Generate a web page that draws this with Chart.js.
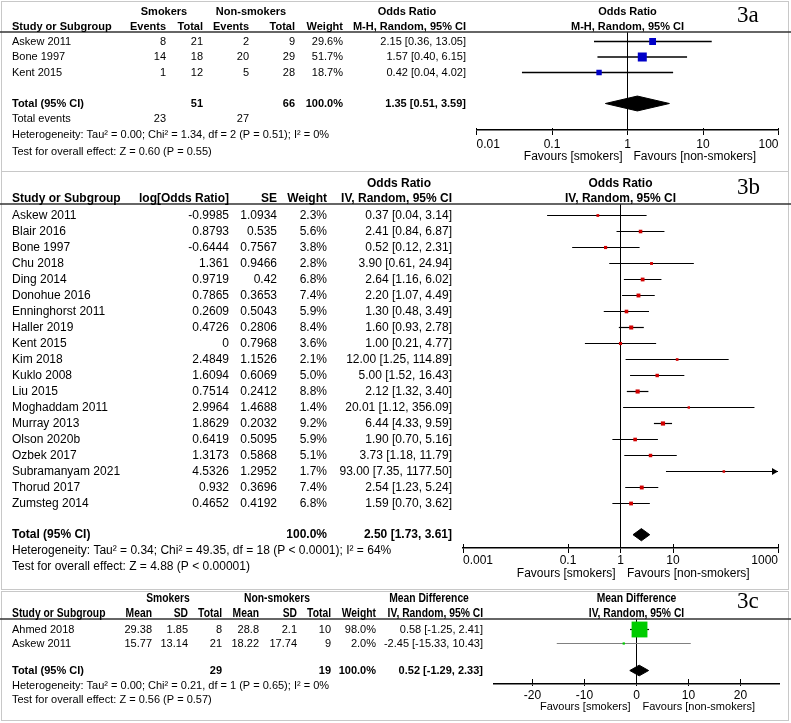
<!DOCTYPE html>
<html><head><meta charset="utf-8">
<script src="https://cdn.jsdelivr.net/npm/chart.js@4.4.1/dist/chart.umd.min.js"></script>
<style>
html,body{margin:0;padding:0;background:#fff;}
#wrap{position:relative;width:791px;height:723px;overflow:hidden;background:#fff;}
canvas{position:absolute;left:0;top:0;}
.frame{position:absolute;border:1px solid #c8c8c8;box-sizing:border-box;}
</style></head><body>
<div id="wrap">
<div class="frame" style="left:1px;top:1px;width:788px;height:171px"></div>
<div class="frame" style="left:1px;top:171px;width:788px;height:419px"></div>
<div class="frame" style="left:1px;top:591px;width:788px;height:130px"></div>
<canvas id="c1" width="791" height="723"></canvas>
<canvas id="c2" width="791" height="723"></canvas>
<canvas id="c3" width="791" height="723"></canvas>
</div>
<script>
// ---------------- shared text ----------------
const FAV_L = 'Favours [smokers]';
const FAV_R = 'Favours [non-smokers]';

// ---------------- 3a data ----------------
const a_studies = ['Askew 2011', 'Bone 1997', 'Kent 2015'];
const a_eventsS = [8, 14, 1];
const a_totalS = [21, 18, 12];
const a_eventsN = [2, 20, 5];
const a_totalN = [9, 29, 28];
const a_weight = [29.6, 51.7, 18.7];
const a_or = [2.15, 1.57, 0.42];
const a_lo = [0.36, 0.40, 0.04];
const a_hi = [13.05, 6.15, 4.02];
const a_pooled = [1.35, 0.51, 3.59];
const a_totals = [51, 66];
const a_totalEvents = [23, 27];
const a_het = 'Heterogeneity: Tau\u00b2 = 0.00; Chi\u00b2 = 1.34, df = 2 (P = 0.51); I\u00b2 = 0%';
const a_test = 'Test for overall effect: Z = 0.60 (P = 0.55)';
const a_ticks = [0.01, 0.1, 1, 10, 100];
const a_tickLabels = ['0.01', '0.1', '1', '10', '100'];

// ---------------- 3b data ----------------
const b_studies = ['Askew 2011','Blair 2016','Bone 1997','Chu 2018','Ding 2014','Donohue 2016','Enninghorst 2011','Haller 2019','Kent 2015','Kim 2018','Kuklo 2008','Liu 2015','Moghaddam 2011','Murray 2013','Olson 2020b','Ozbek 2017','Subramanyam 2021','Thorud 2017','Zumsteg 2014'];
const b_logOR = [-0.9985, 0.8793, -0.6444, 1.361, 0.9719, 0.7865, 0.2609, 0.4726, 0, 2.4849, 1.6094, 0.7514, 2.9964, 1.8629, 0.6419, 1.3173, 4.5326, 0.932, 0.4652];
const b_se = [1.0934, 0.535, 0.7567, 0.9466, 0.42, 0.3653, 0.5043, 0.2806, 0.7968, 1.1526, 0.6069, 0.2412, 1.4688, 0.2032, 0.5095, 0.5868, 1.2952, 0.3696, 0.4192];
const b_weight = [2.3, 5.6, 3.8, 2.8, 6.8, 7.4, 5.9, 8.4, 3.6, 2.1, 5.0, 8.8, 1.4, 9.2, 5.9, 5.1, 1.7, 7.4, 6.8];
const b_or = [0.37, 2.41, 0.52, 3.90, 2.64, 2.20, 1.30, 1.60, 1.00, 12.00, 5.00, 2.12, 20.01, 6.44, 1.90, 3.73, 93.00, 2.54, 1.59];
const b_lo = [0.04, 0.84, 0.12, 0.61, 1.16, 1.07, 0.48, 0.93, 0.21, 1.25, 1.52, 1.32, 1.12, 4.33, 0.70, 1.18, 7.35, 1.23, 0.70];
const b_hi = [3.14, 6.87, 2.31, 24.94, 6.02, 4.49, 3.49, 2.78, 4.77, 114.89, 16.43, 3.40, 356.09, 9.59, 5.16, 11.79, 1177.50, 5.24, 3.62];
const b_pooled = [2.50, 1.73, 3.61];
const b_het = 'Heterogeneity: Tau\u00b2 = 0.34; Chi\u00b2 = 49.35, df = 18 (P < 0.0001); I\u00b2 = 64%';
const b_test = 'Test for overall effect: Z = 4.88 (P < 0.00001)';
const b_ticks = [0.001, 0.1, 1, 10, 1000];
const b_tickLabels = ['0.001', '0.1', '1', '10', '1000'];

// ---------------- 3c data ----------------
const c_studies = ['Ahmed 2018', 'Askew 2011'];
const c_meanS = [29.38, 15.77];
const c_sdS = [1.85, 13.14];
const c_totalS = [8, 21];
const c_meanN = [28.8, 18.22];
const c_sdN = [2.1, 17.74];
const c_totalN = [10, 9];
const c_weight = [98.0, 2.0];
const c_md = [0.58, -2.45];
const c_lo = [-1.25, -15.33];
const c_hi = [2.41, 10.43];
const c_pooled = [0.52, -1.29, 2.33];
const c_totals = [29, 19];
const c_het = 'Heterogeneity: Tau\u00b2 = 0.00; Chi\u00b2 = 0.21, df = 1 (P = 0.65); I\u00b2 = 0%';
const c_test = 'Test for overall effect: Z = 0.56 (P = 0.57)';
const c_ticks = [-20, -10, 0, 10, 20];
const c_tickLabels = ['-20', '-10', '0', '10', '20'];

// ---------------- helpers ----------------
const FONT = "'Liberation Sans', Arial, Helvetica, sans-serif";
const SERIF = "'Liberation Serif', 'Times New Roman', serif";
const W = 791, H = 723, XH = 30;

function txt(ctx, s, x, y, align, size, bold, sx) {
  ctx.save();
  ctx.font = (bold ? 'bold ' : '') + size + 'px ' + FONT;
  ctx.fillStyle = '#000';
  ctx.textBaseline = 'middle';
  ctx.textAlign = align;
  ctx.translate(x, y);
  if (sx) ctx.scale(sx, 1);
  ctx.fillText(String(s), 0, 0);
  ctx.restore();
}
const ci = (e, l, h) => e.toFixed(2) + ' [' + l.toFixed(2) + ', ' + h.toFixed(2) + ']';
const pct = w => w.toFixed(1) + '%';

function makeForest(c) {
  const yMin = (c.area.top - c.row0) / c.rowH;
  const yMax = (c.area.bottom - c.row0) / c.rowH;
  const ds = [];
  ds.push({
    data: c.est.map((v, i) => ({x: v, y: i})),
    showLine: false, pointStyle: 'rect',
    pointRadius: c.weight.map(w => c.side(w) / Math.SQRT2),
    pointBackgroundColor: c.color, pointBorderColor: c.color, pointBorderWidth: 0
  });
  const pr = c.pooledRow, ph = c.diamondH, p = c.pooled;
  ds.push({
    data: [{x: p[1], y: pr}, {x: p[0], y: pr - ph}, {x: p[2], y: pr}, {x: p[0], y: pr + ph}, {x: p[1], y: pr}],
    showLine: true, fill: 'shape', tension: 0, pointRadius: 0,
    borderColor: '#000', backgroundColor: '#000', borderWidth: 1
  });
  c.est.forEach((v, i) => {
    ds.push({
      data: [{x: c.lo[i], y: i}, {x: c.hi[i], y: i}],
      showLine: true, pointRadius: 0, borderWidth: c.ciWidth,
      borderColor: c.lineColors ? c.lineColors[i] : '#000'
    });
  });
  ds.push({
    data: [{x: c.nullVal, y: yMin}, {x: c.nullVal, y: yMax}],
    showLine: true, pointRadius: 0, borderWidth: 1, borderColor: '#000'
  });

  return new Chart(document.getElementById(c.id), {
    type: 'scatter',
    data: {datasets: ds},
    options: {
      responsive: false, animation: false, events: [],
      layout: {padding: {left: c.area.left, right: W - c.area.right, top: c.area.top, bottom: H - c.area.bottom - XH}},
      plugins: {legend: {display: false}, tooltip: {enabled: false}, title: {display: false}},
      scales: {
        x: {
          type: c.xType, position: 'bottom', min: c.xMin, max: c.xMax, bounds: 'data',
          afterBuildTicks: s => { s.ticks = c.ticks.map(v => ({value: v})); },
          afterFit: s => { s.height = XH; s.paddingLeft = 0; s.paddingRight = 0; },
          ticks: {autoSkip: false, maxRotation: 0, minRotation: 0, padding: c.tickPad, color: '#000',
                  align: c.tickAlign, font: {family: FONT, size: c.tickFont}, callback: (v, i) => c.tickLabels[i]},
          grid: {drawOnChartArea: false, drawTicks: true, tickLength: c.tickDown, color: '#000', lineWidth: 1},
          border: {display: true, color: '#000', width: 1.5}
        },
        y: {type: 'linear', display: false, min: yMin, max: yMax, reverse: true, bounds: 'data'}
      }
    },
    plugins: [{
      id: 'tbl' + c.id,
      afterDraw(chart) {
        const ctx = chart.ctx, X = chart.scales.x, Ys = chart.scales.y, ca = chart.chartArea;
        const Y = r => Ys.getPixelForValue(r);
        ctx.save();
        // header underline
        ctx.strokeStyle = '#333'; ctx.lineWidth = 1.5;
        ctx.beginPath(); ctx.moveTo(0, ca.top); ctx.lineTo(W, ca.top); ctx.stroke();
        // upward part of tick marks
        ctx.strokeStyle = '#000'; ctx.lineWidth = 1;
        c.ticks.forEach(v => {
          const px = Math.floor(X.getPixelForValue(v)) + 0.5;
          ctx.beginPath(); ctx.moveTo(px, ca.bottom); ctx.lineTo(px, ca.bottom - c.tickUp); ctx.stroke();
        });
        // arrows for CIs beyond the axis
        c.hi.forEach((h, i) => {
          if (h > c.xMax) {
            const px = X.getPixelForValue(c.xMax), py = Y(i);
            ctx.fillStyle = '#000';
            ctx.beginPath(); ctx.moveTo(px, py); ctx.lineTo(px - 6, py - 3.5); ctx.lineTo(px - 6, py + 3.5); ctx.closePath(); ctx.fill();
          }
        });
        // favours labels
        const p0 = X.getPixelForValue(c.nullVal);
        txt(ctx, FAV_L, p0 - c.favGap[0], ca.bottom + c.favDy, 'right', c.favFont);
        txt(ctx, FAV_R, p0 + c.favGap[1], ca.bottom + c.favDy, 'left', c.favFont);
        // panel label
        ctx.font = '23px ' + SERIF; ctx.fillStyle = '#000'; ctx.textAlign = 'left'; ctx.textBaseline = 'middle';
        ctx.fillText(c.panel, 737, c.panelY);
        c.drawTable(ctx, Y, p0);
        ctx.restore();
      }
    }]
  });
}

// ---------------- panel 3a ----------------
makeForest({
  id: 'c1', panel: '3a', panelY: 16,
  area: {left: 476.5, right: 778.5, top: 32, bottom: 130}, row0: 41.5, rowH: 15.5,
  xType: 'logarithmic', xMin: 0.01, xMax: 100, ticks: a_ticks, tickLabels: a_tickLabels,
  tickFont: 12, tickPad: 2, tickDown: 5, tickUp: 2, tickAlign: 'inner', nullVal: 1, ciWidth: 1.3,
  est: a_or, lo: a_lo, hi: a_hi, weight: a_weight, color: '#0000C8',
  side: w => 1.25 * Math.sqrt(w),
  pooled: a_pooled, pooledRow: 4, diamondH: 0.48,
  favDy: 27, favFont: 12, favGap: [5, 6],
  drawTable(ctx, Y, p0) {
    const h1 = Y(-1.9), h2 = Y(-0.92), f = 11;
    txt(ctx, 'Smokers', 164, h1, 'center', f, true);
    txt(ctx, 'Non-smokers', 251, h1, 'center', f, true);
    txt(ctx, 'Odds Ratio', 407, h1, 'center', f, true);
    txt(ctx, 'Odds Ratio', p0, h1, 'center', f, true);
    txt(ctx, 'Study or Subgroup', 12, h2, 'left', f, true);
    txt(ctx, 'Events', 166, h2, 'right', f, true);
    txt(ctx, 'Total', 203, h2, 'right', f, true);
    txt(ctx, 'Events', 249, h2, 'right', f, true);
    txt(ctx, 'Total', 295, h2, 'right', f, true);
    txt(ctx, 'Weight', 343, h2, 'right', f, true);
    txt(ctx, 'M-H, Random, 95% CI', 466, h2, 'right', f, true);
    txt(ctx, 'M-H, Random, 95% CI', p0, h2, 'center', f, true);
    a_studies.forEach((s, i) => {
      const y = Y(i);
      txt(ctx, s, 12, y, 'left', f);
      txt(ctx, a_eventsS[i], 166, y, 'right', f);
      txt(ctx, a_totalS[i], 203, y, 'right', f);
      txt(ctx, a_eventsN[i], 249, y, 'right', f);
      txt(ctx, a_totalN[i], 295, y, 'right', f);
      txt(ctx, pct(a_weight[i]), 343, y, 'right', f);
      txt(ctx, ci(a_or[i], a_lo[i], a_hi[i]), 466, y, 'right', f);
    });
    const yt = Y(4);
    txt(ctx, 'Total (95% CI)', 12, yt, 'left', f, true);
    txt(ctx, a_totals[0], 203, yt, 'right', f, true);
    txt(ctx, a_totals[1], 295, yt, 'right', f, true);
    txt(ctx, pct(100), 343, yt, 'right', f, true);
    txt(ctx, ci(a_pooled[0], a_pooled[1], a_pooled[2]), 466, yt, 'right', f, true);
    const ye = Y(5);
    txt(ctx, 'Total events', 12, ye, 'left', f);
    txt(ctx, a_totalEvents[0], 166, ye, 'right', f);
    txt(ctx, a_totalEvents[1], 249, ye, 'right', f);
    txt(ctx, a_het, 12, Y(6), 'left', f);
    txt(ctx, a_test, 12, Y(7.1), 'left', f);
  }
});

// ---------------- panel 3b ----------------
makeForest({
  id: 'c2', panel: '3b', panelY: 188,
  area: {left: 463, right: 778, top: 204, bottom: 548}, row0: 215.5, rowH: 16,
  xType: 'logarithmic', xMin: 0.001, xMax: 1000, ticks: b_ticks, tickLabels: b_tickLabels,
  tickFont: 12, tickPad: 0, tickDown: 5, tickUp: 4, tickAlign: 'inner', nullVal: 1, ciWidth: 1.2,
  est: b_or, lo: b_lo, hi: b_hi, weight: b_weight, color: '#D00000',
  side: w => 1.3 + 0.95 * Math.sqrt(w),
  pooled: b_pooled, pooledRow: 19.95, diamondH: 0.38,
  favDy: 26, favFont: 12, favGap: [5, 6.5],
  drawTable(ctx, Y, p0) {
    const h1 = Y(-2), h2 = Y(-1.05), f = 12;
    txt(ctx, 'Odds Ratio', 399, h1, 'center', f, true);
    txt(ctx, 'Odds Ratio', p0, h1, 'center', f, true);
    txt(ctx, 'Study or Subgroup', 12, h2, 'left', f, true);
    txt(ctx, 'log[Odds Ratio]', 229, h2, 'right', f, true);
    txt(ctx, 'SE', 277, h2, 'right', f, true);
    txt(ctx, 'Weight', 327, h2, 'right', f, true);
    txt(ctx, 'IV, Random, 95% CI', 452, h2, 'right', f, true);
    txt(ctx, 'IV, Random, 95% CI', p0, h2, 'center', f, true);
    b_studies.forEach((s, i) => {
      const y = Y(i);
      txt(ctx, s, 12, y, 'left', f);
      txt(ctx, String(b_logOR[i]), 229, y, 'right', f);
      txt(ctx, String(b_se[i]), 277, y, 'right', f);
      txt(ctx, pct(b_weight[i]), 327, y, 'right', f);
      txt(ctx, ci(b_or[i], b_lo[i], b_hi[i]), 452, y, 'right', f);
    });
    const yt = Y(19.95);
    txt(ctx, 'Total (95% CI)', 12, yt, 'left', f, true);
    txt(ctx, pct(100), 327, yt, 'right', f, true);
    txt(ctx, ci(b_pooled[0], b_pooled[1], b_pooled[2]), 452, yt, 'right', f, true);
    txt(ctx, b_het, 12, Y(20.95), 'left', f);
    txt(ctx, b_test, 12, Y(21.95), 'left', f);
  }
});

// ---------------- panel 3c ----------------
makeForest({
  id: 'c3', panel: '3c', panelY: 602,
  area: {left: 494, right: 779, top: 619, bottom: 684}, row0: 629.5, rowH: 14,
  xType: 'linear', xMin: -27.4, xMax: 27.4, ticks: c_ticks, tickLabels: c_tickLabels,
  tickFont: 12, tickPad: 2, tickDown: 2, tickUp: 5, tickAlign: 'center', nullVal: 0, ciWidth: 1.2,
  est: c_md, lo: c_lo, hi: c_hi, weight: c_weight, color: '#00CC00',
  lineColors: ['#000', '#808080'],
  side: w => 1.6 * Math.sqrt(w),
  pooled: c_pooled, pooledRow: 2.93, diamondH: 0.38,
  favDy: 23, favFont: 11, favGap: [6, 6],
  drawTable(ctx, Y, p0) {
    const h1 = Y(-2.2), h2 = Y(-1.15), f = 11, hf = 12, sx = 0.86;
    txt(ctx, 'Smokers', 168, h1, 'center', hf, true, sx);
    txt(ctx, 'Non-smokers', 277, h1, 'center', hf, true, sx);
    txt(ctx, 'Mean Difference', 429, h1, 'center', hf, true, sx);
    txt(ctx, 'Mean Difference', p0, h1, 'center', hf, true, sx);
    txt(ctx, 'Study or Subgroup', 12, h2, 'left', hf, true, sx);
    txt(ctx, 'Mean', 152, h2, 'right', hf, true, sx);
    txt(ctx, 'SD', 188, h2, 'right', hf, true, sx);
    txt(ctx, 'Total', 222, h2, 'right', hf, true, sx);
    txt(ctx, 'Mean', 259, h2, 'right', hf, true, sx);
    txt(ctx, 'SD', 297, h2, 'right', hf, true, sx);
    txt(ctx, 'Total', 331, h2, 'right', hf, true, sx);
    txt(ctx, 'Weight', 376, h2, 'right', hf, true, sx);
    txt(ctx, 'IV, Random, 95% CI', 483, h2, 'right', hf, true, sx);
    txt(ctx, 'IV, Random, 95% CI', p0, h2, 'center', hf, true, sx);
    c_studies.forEach((s, i) => {
      const y = Y(i);
      txt(ctx, s, 12, y, 'left', f);
      txt(ctx, String(c_meanS[i]), 152, y, 'right', f);
      txt(ctx, String(c_sdS[i]), 188, y, 'right', f);
      txt(ctx, c_totalS[i], 222, y, 'right', f);
      txt(ctx, String(c_meanN[i]), 259, y, 'right', f);
      txt(ctx, String(c_sdN[i]), 297, y, 'right', f);
      txt(ctx, c_totalN[i], 331, y, 'right', f);
      txt(ctx, pct(c_weight[i]), 376, y, 'right', f);
      txt(ctx, ci(c_md[i], c_lo[i], c_hi[i]), 483, y, 'right', f);
    });
    const yt = Y(2.93);
    txt(ctx, 'Total (95% CI)', 12, yt, 'left', f, true);
    txt(ctx, c_totals[0], 222, yt, 'right', f, true);
    txt(ctx, c_totals[1], 331, yt, 'right', f, true);
    txt(ctx, pct(100), 376, yt, 'right', f, true);
    txt(ctx, ci(c_pooled[0], c_pooled[1], c_pooled[2]), 483, yt, 'right', f, true);
    txt(ctx, c_het, 12, Y(4), 'left', f);
    txt(ctx, c_test, 12, Y(5), 'left', f);
  }
});
</script>
</body></html>
